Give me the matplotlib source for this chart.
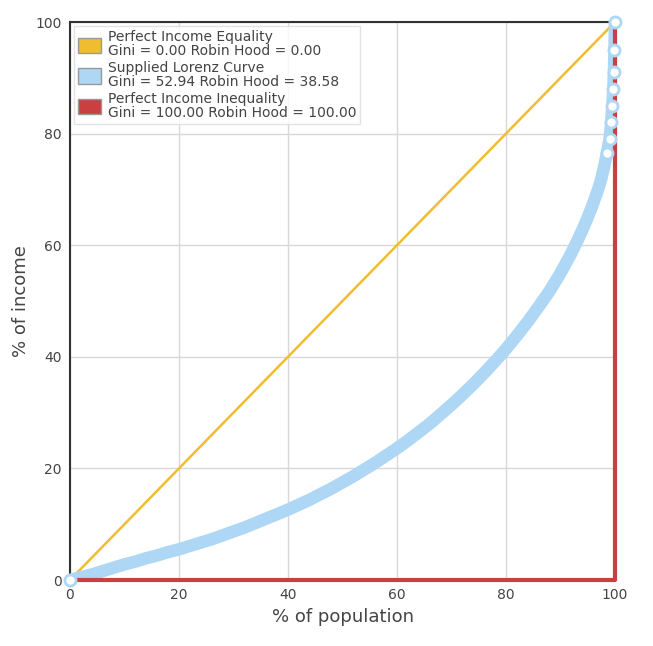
import matplotlib
matplotlib.use("Agg")
import matplotlib.pyplot as plt
from matplotlib.patches import Patch

eq_x = [0, 100]
eq_y = [0, 100]
ineq_x = [0, 100, 100]
ineq_y = [0, 0, 100]
lor_x = [0,2,4,6,8,10,12,14,16,18,20,22,24,26,28,30,32,34,36,38,40,42,44,46,48,50,52,54,56,58,60,62,64,66,68,70,72,74,76,78,80,82,84,86,88,90,91,92,93,94,95,96,97,97.5,98,98.5,99,99.3,99.5,99.7,99.8,99.9,100]
lor_y = [0,0.5,1,1.6,2.2,2.8,3.3,3.9,4.4,5.0,5.5,6.1,6.7,7.3,8.0,8.7,9.4,10.2,11.0,11.8,12.6,13.5,14.4,15.4,16.4,17.5,18.6,19.8,21.0,22.3,23.6,25.0,26.5,28.0,29.7,31.4,33.2,35.1,37.1,39.2,41.4,43.8,46.3,49.0,51.8,55,56.8,58.6,60.6,62.7,65,67.5,70.3,72,74,76.5,79,82,85,88,91,95,100]
labels = ["Perfect Income Equality\nGini = 0.00 Robin Hood = 0.00",
          "Supplied Lorenz Curve\nGini = 52.94 Robin Hood = 38.58",
          "Perfect Income Inequality\nGini = 100.00 Robin Hood = 100.00"]
colors = ["#f0bd30", "#aed6f5", "#c84040"]

fig = plt.figure(figsize=(6.53, 6.46), dpi=100)
ax = fig.add_axes([70/653, 66/646, 545/653, 558/646])
ax.plot(eq_x, eq_y, color=colors[0], lw=1.8, zorder=3)
ax.plot(lor_x, lor_y, color=colors[1], lw=9, solid_capstyle='round', zorder=3)
top = [i for i, x in enumerate(lor_x) if x >= 98.5]
ax.plot([lor_x[i] for i in top], [lor_y[i] for i in top], ls='none', marker='o', ms=8,
        mfc='white', mec=colors[1], mew=2, zorder=6, clip_on=False)
ax.plot([lor_x[0]], [lor_y[0]], ls='none', marker='o', ms=8, mfc='white', mec=colors[1], mew=2, zorder=6, clip_on=False)
ax.plot(ineq_x, ineq_y, color=colors[2], lw=3, zorder=5, clip_on=False)
ax.set_xlim(0, 100); ax.set_ylim(0, 100)
ax.set_xticks(range(0, 101, 20)); ax.set_yticks(range(0, 101, 20))
ax.grid(color='#d8d8d8', lw=1)
ax.set_axisbelow(True)
for s in ax.spines.values():
    s.set_color('#333333'); s.set_linewidth(1.5)
ax.tick_params(length=0, labelsize=10, colors='#444444', pad=6)
ax.set_xlabel("% of population", fontsize=13, color='#444444')
ax.set_ylabel("% of income", fontsize=13, color='#444444')
handles = [Patch(facecolor=c, edgecolor='#999999') for c in colors]
leg = ax.legend(handles, labels, loc='upper left', fontsize=10, handlelength=1.6, handleheight=1.3,
                frameon=True, fancybox=False, edgecolor='#dddddd', borderpad=0.3, labelspacing=0.2,
                handletextpad=0.5, borderaxespad=0.3)
for t in leg.get_texts():
    t.set_color('#444444'); t.set_linespacing(1.0)
fig.savefig("out.png", dpi=100)
